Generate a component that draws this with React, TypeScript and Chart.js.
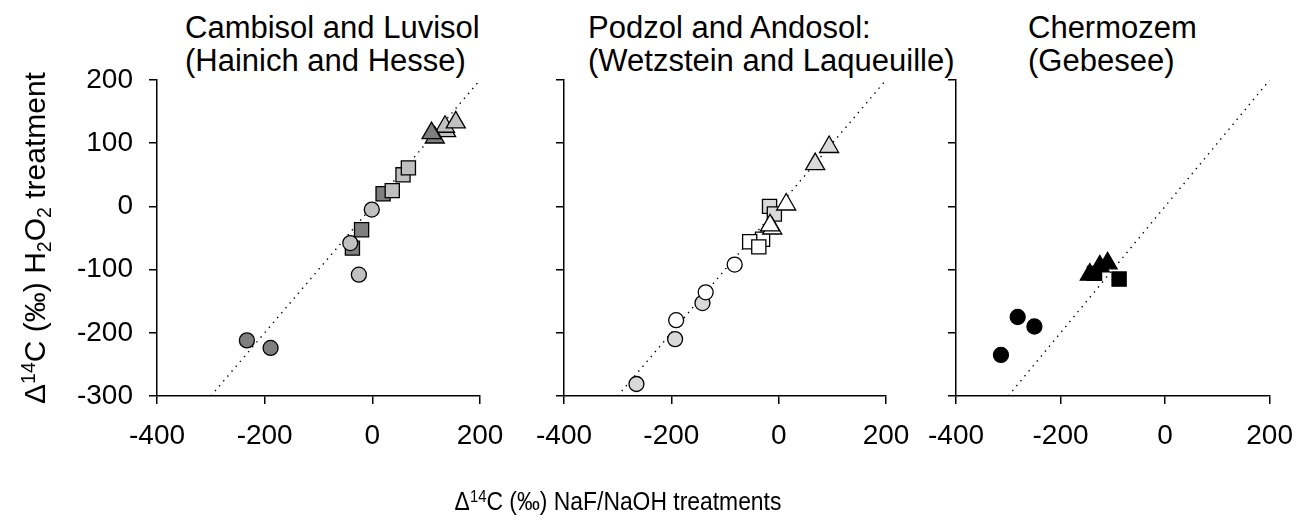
import React, { useEffect, useRef } from "react";
import { Chart, registerables } from "chart.js";

Chart.register(...registerables);

// ---------- data ----------
const xTickValues = [-400, -200, 0, 200];
const yTickValues = [-300, -200, -100, 0, 100, 200];
const oneToOneLine = [
  { x: -300, y: -300 },
  { x: 200, y: 200 },
];

// Panel 1: Cambisol and Luvisol (Hainich and Hesse)
const p1DarkCircles = [
  { x: -233, y: -212 },
  { x: -189, y: -224 },
];
const p1LightCircles = [
  { x: -25, y: -108 },
  { x: -41, y: -58 },
  { x: -1, y: -5 },
];
const p1DarkSquares = [
  { x: -37, y: -66 },
  { x: -20, y: -37 },
  { x: 20, y: 20 },
];
const p1LightSquares = [
  { x: 37, y: 25 },
  { x: 57, y: 50 },
  { x: 67, y: 61 },
];
const p1DarkTriangles = [
  { x: 116, y: 109 },
  { x: 110, y: 116 },
];
const p1LightTriangles = [
  { x: 137, y: 119 },
  { x: 135, y: 126 },
  { x: 155, y: 133 },
];

// Panel 2: Podzol and Andosol (Wetzstein and Laqueuille)
const p2LightCircles = [
  { x: -265, y: -281 },
  { x: -193, y: -210 },
  { x: -142, y: -153 },
];
const p2WhiteCircles = [
  { x: -191, y: -180 },
  { x: -136, y: -136 },
  { x: -82, y: -92 },
];
const p2WhiteSquares = [
  { x: -30, y: -52 },
  { x: -54, y: -56 },
  { x: -37, y: -64 },
];
const p2LightSquares = [
  { x: -17, y: 0 },
  { x: -8, y: -12 },
];
const p2WhiteTriangles = [
  { x: -12, y: -35 },
  { x: -16, y: -30 },
  { x: 14, y: 3 },
];
const p2LightTriangles = [
  { x: 68, y: 67 },
  { x: 94, y: 94 },
];

// Panel 3: Chermozem (Gebesee)
const p3Circles = [
  { x: -314, y: -235 },
  { x: -282, y: -175 },
  { x: -250, y: -190 },
];
const p3Squares = [
  { x: -135, y: -106 },
  { x: -88, y: -115 },
];
const p3Triangles = [
  { x: -144, y: -108 },
  { x: -125, y: -95 },
  { x: -110, y: -90 },
];

// ---------- styling ----------
const W = 1308;
const H = 521;
const FONT = '"Liberation Sans", Arial, Helvetica, sans-serif';
const DARK = "#7f7f7f";
const LIGHT1 = "#c0c0c0";
const LIGHT2 = "#d9d9d9";

function pts(data: any[], style: string, fill: string) {
  const r = style === "circle" ? 7.5 : style === "rect" ? 10 : 11;
  return {
    data,
    pointStyle: style,
    pointRadius: r,
    pointBackgroundColor: fill,
    pointBorderColor: "#000",
    pointBorderWidth: 1.3,
    showLine: false,
  };
}

function lineDs() {
  return {
    data: oneToOneLine,
    showLine: true,
    pointRadius: 0,
    borderColor: "#000",
    borderWidth: 1.4,
    borderDash: [1.4, 5],
    fill: false,
  };
}

type Area = { left: number; right: number; top: number; bottom: number };

function Panel({ datasets, area, showYLabels }: { datasets: any[]; area: Area; showYLabels: boolean }) {
  const ref = useRef<HTMLCanvasElement>(null);
  useEffect(() => {
    const yW = showYLabels ? 90 : 20;
    const xH = 60;
    const axisGrid = {
      display: true,
      drawOnChartArea: false,
      drawTicks: true,
      tickLength: 8,
      color: "#000",
      lineWidth: 1.5,
    };
    const axisBorder = { display: true, color: "#000", width: 1.5 };
    const chart = new Chart(ref.current as HTMLCanvasElement, {
      type: "scatter",
      data: { datasets },
      options: {
        responsive: false,
        animation: false,
        events: [],
        layout: {
          padding: {
            left: area.left - yW,
            right: W - area.right,
            top: area.top,
            bottom: H - area.bottom - xH,
          },
        },
        plugins: {
          legend: { display: false },
          tooltip: { enabled: false },
          title: { display: false },
        },
        scales: {
          x: {
            type: "linear",
            min: -400,
            max: 200,
            afterBuildTicks: (s: any) => {
              s.ticks = xTickValues.map((v) => ({ value: v }));
            },
            afterFit: (s: any) => {
              s.height = xH;
            },
            grid: axisGrid,
            border: axisBorder,
            ticks: {
              color: "#000",
              padding: 15,
              maxRotation: 0,
              font: { family: FONT, size: 28 },
            },
          },
          y: {
            type: "linear",
            min: -300,
            max: 200,
            afterBuildTicks: (s: any) => {
              s.ticks = yTickValues.map((v) => ({ value: v }));
            },
            afterFit: (s: any) => {
              s.width = yW;
            },
            grid: axisGrid,
            border: axisBorder,
            ticks: {
              display: showYLabels,
              color: "#000",
              padding: 16,
              font: { family: FONT, size: 28 },
            },
          },
        },
      } as any,
    });
    return () => chart.destroy();
  }, []);
  return (
    <canvas
      ref={ref}
      width={W}
      height={H}
      style={{ position: "absolute", left: 0, top: 0, width: W, height: H }}
    />
  );
}

const sup: React.CSSProperties = { fontSize: "0.65em", position: "relative", top: "-0.5em", verticalAlign: "baseline" };
const sub: React.CSSProperties = { fontSize: "0.65em", position: "relative", top: "0.3em", verticalAlign: "baseline" };

function Title({ left, lines }: { left: number; lines: string[] }) {
  return (
    <div
      style={{
        position: "absolute",
        left,
        top: 11,
        fontFamily: FONT,
        fontSize: 31,
        lineHeight: "33px",
        color: "#000",
        whiteSpace: "pre",
      }}
    >
      {lines.map((l, i) => (
        <div key={i}>{l}</div>
      ))}
    </div>
  );
}

export default function App() {
  const panel1 = [
    pts(p1DarkTriangles, "triangle", DARK),
    pts(p1LightTriangles, "triangle", LIGHT1),
    pts(p1LightCircles, "circle", LIGHT1),
    pts(p1LightSquares, "rect", LIGHT1),
    pts(p1DarkSquares, "rect", DARK),
    pts(p1DarkCircles, "circle", DARK),
    lineDs(),
  ];
  const panel2 = [
    pts(p2WhiteTriangles, "triangle", "#ffffff"),
    pts(p2LightTriangles, "triangle", LIGHT2),
    pts(p2LightSquares, "rect", LIGHT2),
    pts(p2WhiteSquares, "rect", "#ffffff"),
    pts(p2WhiteCircles, "circle", "#ffffff"),
    pts(p2LightCircles, "circle", LIGHT2),
    lineDs(),
  ];
  const panel3 = [
    pts(p3Triangles, "triangle", "#000000"),
    pts(p3Squares, "rect", "#000000"),
    pts(p3Circles, "circle", "#000000"),
    lineDs(),
  ];
  return (
    <div style={{ position: "absolute", left: 0, top: 0, width: W, height: H, background: "#fff", overflow: "hidden" }}>
      <Title left={185} lines={["Cambisol and Luvisol", "(Hainich and Hesse)"]} />
      <Title left={588} lines={["Podzol and Andosol:", "(Wetzstein and Laqueuille)"]} />
      <Title left={1028} lines={["Chermozem", "(Gebesee)"]} />
      <Panel datasets={panel1} area={{ left: 157, right: 480, top: 80, bottom: 396 }} showYLabels={true} />
      <Panel datasets={panel2} area={{ left: 564, right: 886, top: 80, bottom: 396 }} showYLabels={false} />
      <Panel datasets={panel3} area={{ left: 956, right: 1278, top: 80, bottom: 396 }} showYLabels={false} />
      <div
        style={{
          position: "absolute",
          left: 34.6 - 200,
          top: 237.5 - 17,
          width: 400,
          height: 34,
          lineHeight: "34px",
          textAlign: "center",
          fontFamily: FONT,
          fontSize: 30,
          color: "#000",
          whiteSpace: "pre",
          transform: "rotate(-90deg)",
        }}
      >
        Δ<span style={sup}>14</span>C (‰) H<span style={sub}>2</span>O<span style={sub}>2</span> treatment
      </div>
      <div
        style={{
          position: "absolute",
          left: 617.5 - 300,
          top: 486,
          width: 600,
          height: 30,
          lineHeight: "30px",
          textAlign: "center",
          fontFamily: FONT,
          fontSize: 26,
          color: "#000",
          whiteSpace: "pre",
          transform: "scaleX(0.88)",
        }}
      >
        Δ<span style={sup}>14</span>C (‰) NaF/NaOH treatments
      </div>
    </div>
  );
}
